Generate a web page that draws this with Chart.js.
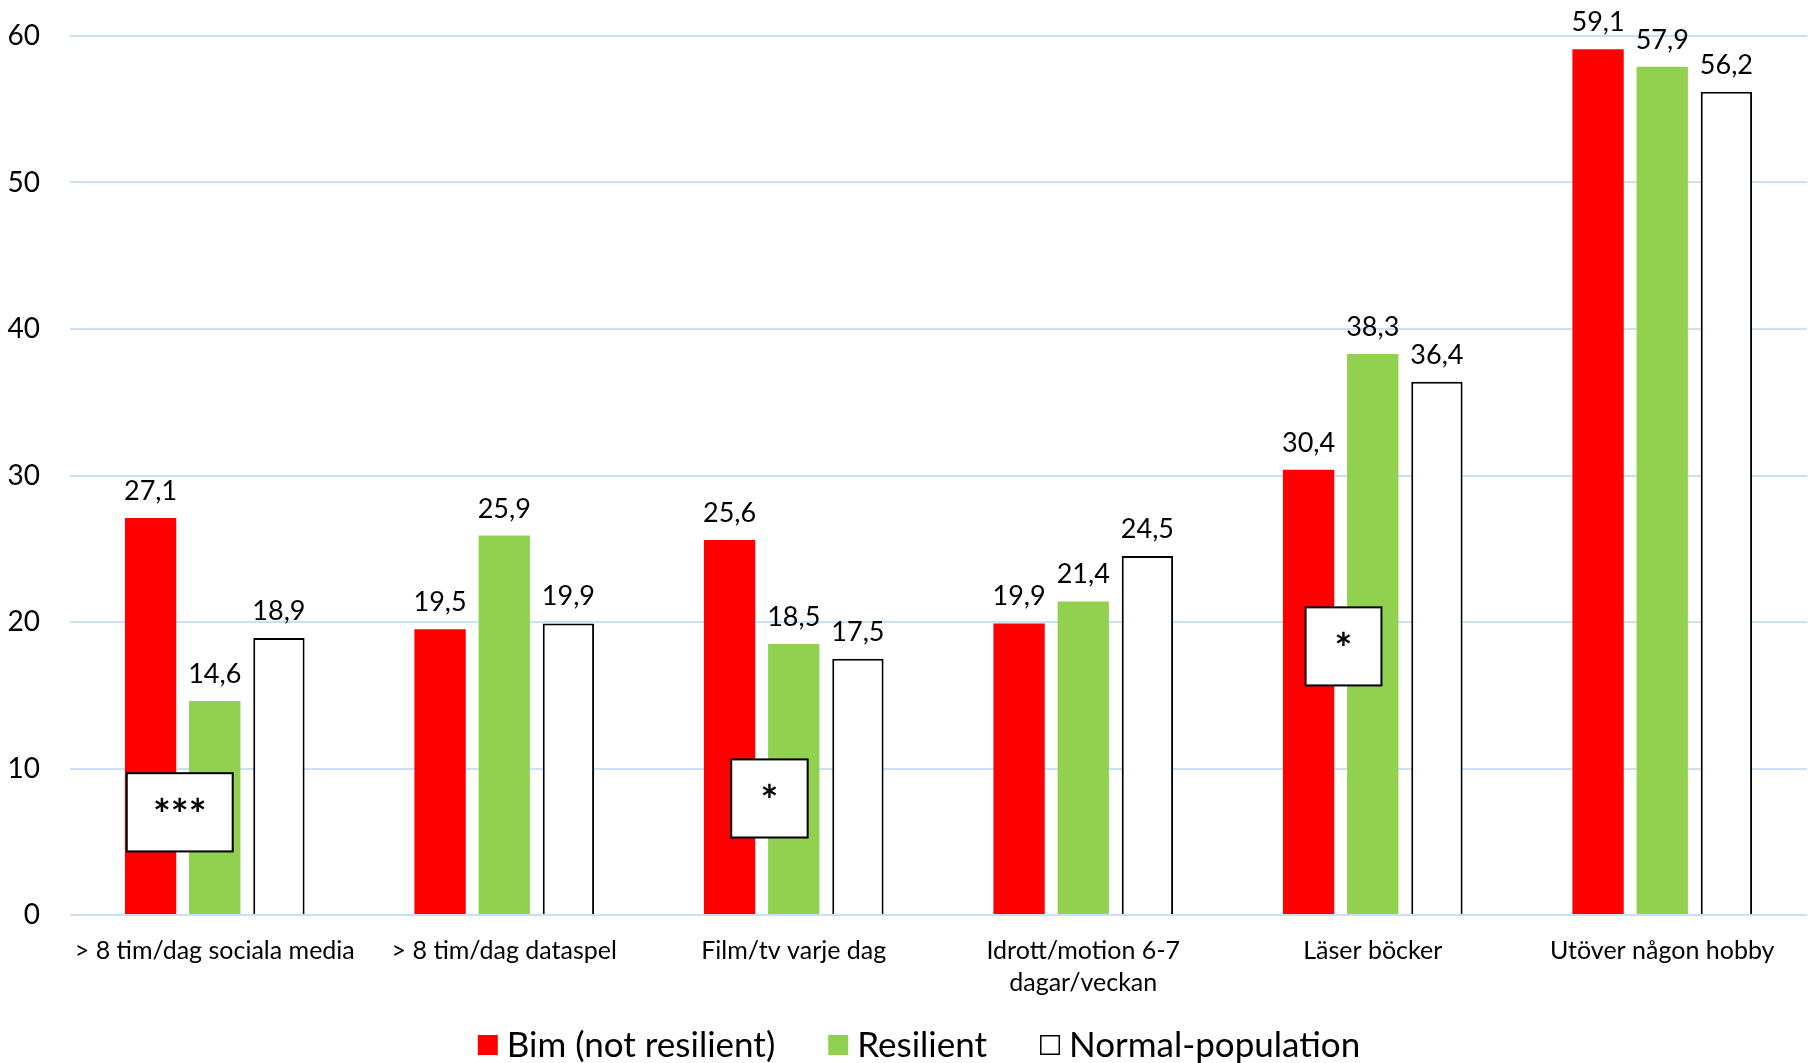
<!DOCTYPE html>
<html>
<head>
<meta charset="utf-8">
<script src="https://cdn.jsdelivr.net/npm/chart.js@4"></script>
<style>
  html, body { margin: 0; padding: 0; background: #fff; }
  #wrap { width: 1814px; height: 1063px; }
</style>
</head>
<body>
<div id="wrap"><canvas id="c" width="1814" height="1063"></canvas></div>
<script>
const categories = [
  '> 8 tim/dag sociala media',
  '> 8 tim/dag dataspel',
  'Film/tv varje dag',
  ['Idrott/motion 6-7', 'dagar/veckan'],
  'Läser böcker',
  'Utöver någon hobby'
];
const seriesNames = ['Bim (not resilient)', 'Resilient', 'Normal-population'];
const bimValues = [27.1, 19.5, 25.6, 19.9, 30.4, 59.1];
const resilientValues = [14.6, 25.9, 18.5, 21.4, 38.3, 57.9];
const normalValues = [18.9, 19.9, 17.5, 24.5, 36.4, 56.2];
const yTickValues = [0, 10, 20, 30, 40, 50, 60];
const significanceCategories = [0, 2, 4];
const significanceLabels = ['***', '*', '*'];

const FONT = 'Lato, "Open Sans", sans-serif';

const valueLabels = {
  id: 'valueLabels',
  afterDatasetsDraw(chart) {
    const ctx = chart.ctx;
    ctx.save();
    ctx.font = '27px ' + FONT;
    ctx.fillStyle = '#000';
    ctx.textAlign = 'center';
    ctx.textBaseline = 'alphabetic';
    chart.data.datasets.forEach((ds, di) => {
      const meta = chart.getDatasetMeta(di);
      meta.data.forEach((bar, i) => {
        const txt = ds.data[i].toFixed(1).replace('.', ',');
        ctx.fillText(txt, bar.x, bar.y - 18);
      });
    });
    ctx.restore();
  }
};

// significance boxes: style/position config (not data)
const boxLayout = [
  { dx: -0.121, w: 0.366, yTop: 9.68, yBot: 4.34 },
  { dx: -0.084, w: 0.264, yTop: 10.62, yBot: 5.29 },
  { dx: -0.101, w: 0.262, yTop: 21.0, yBot: 15.67 }
];

const sigBoxes = {
  id: 'sigBoxes',
  afterDatasetsDraw(chart) {
    const ctx = chart.ctx;
    const xs = chart.scales.x, ys = chart.scales.y;
    const catW = (xs.right - xs.left) / categories.length;
    ctx.save();
    significanceCategories.forEach((ci, k) => {
      const L = boxLayout[k];
      const cx = xs.getPixelForValue(ci) + L.dx * catW;
      const w = L.w * catW;
      const top = ys.getPixelForValue(L.yTop);
      const bot = ys.getPixelForValue(L.yBot);
      ctx.fillStyle = '#fff';
      ctx.fillRect(cx - w / 2, top, w, bot - top);
      ctx.lineWidth = 2;
      ctx.strokeStyle = '#000';
      ctx.strokeRect(cx - w / 2, top, w, bot - top);
      ctx.font = 'bold 42px ' + FONT;
      ctx.fillStyle = '#000';
      ctx.textAlign = 'center';
      ctx.textBaseline = 'alphabetic';
      // asterisk glyph sits high in the em box
      ctx.fillText(significanceLabels[k], cx, (top + bot) / 2 + 18);
    });
    ctx.restore();
  }
};

const customLegend = {
  id: 'customLegend',
  afterDraw(chart) {
    const ctx = chart.ctx;
    ctx.save();
    ctx.font = '35px ' + FONT;
    ctx.textBaseline = 'middle';
    ctx.textAlign = 'left';
    const box = 20, gapText = 9, gapItem = 53;
    const widths = seriesNames.map(n => ctx.measureText(n).width);
    const total = widths.reduce((a, b) => a + b, 0) + seriesNames.length * (box + gapText) + gapItem * (seriesNames.length - 1);
    let x = chart.width / 2 + 12 - total / 2;
    const cy = 1045;
    chart.data.datasets.forEach((ds, i) => {
      ctx.fillStyle = ds.backgroundColor;
      ctx.fillRect(x, cy - box / 2, box, box);
      if (ds.borderWidth) {
        ctx.lineWidth = 1.5;
        ctx.strokeStyle = '#000';
        ctx.strokeRect(x + 0.75, cy - box / 2 + 0.75, box - 1.5, box - 1.5);
      }
      ctx.fillStyle = '#000';
      ctx.fillText(seriesNames[i], x + box + gapText, cy + 1);
      x += box + gapText + widths[i] + gapItem;
    });
    ctx.restore();
  }
};

new Chart(document.getElementById('c'), {
  type: 'bar',
  data: {
    labels: categories,
    datasets: [
      { label: seriesNames[0], data: bimValues, backgroundColor: '#FF0000', borderWidth: 0 },
      { label: seriesNames[1], data: resilientValues, backgroundColor: '#92D050', borderWidth: 0 },
      { label: seriesNames[2], data: normalValues, backgroundColor: '#FFFFFF', borderColor: '#000000', borderWidth: 2 }
    ]
  },
  options: {
    responsive: false,
    animation: false,
    devicePixelRatio: 1,
    categoryPercentage: 0.665,
    barPercentage: 0.8,
    layout: { padding: { top: 36, right: 7, left: 0, bottom: 64 } },
    plugins: {
      legend: { display: false },
      tooltip: { enabled: false }
    },
    scales: {
      x: {
        grid: { display: false, drawTicks: false },
        border: { display: false },
        ticks: {
          font: { family: FONT, size: 25, lineHeight: 1.28 },
          color: '#000',
          padding: 20,
          maxRotation: 0,
          autoSkip: false
        },
        afterFit(s) { s.height = 84; }
      },
      y: {
        min: 0,
        max: 60,
        afterBuildTicks(s) { s.ticks = yTickValues.map(v => ({ value: v })); },
        grid: { color: '#C9E0F6', lineWidth: 2, drawTicks: true, tickLength: 30, tickColor: 'rgba(0,0,0,0)' },
        border: { display: false },
        ticks: {
          font: { family: FONT, size: 28 },
          color: '#000',
          padding: 0
        },
        afterFit(s) { s.width = 70; }
      }
    }
  },
  plugins: [valueLabels, sigBoxes, customLegend]
});
</script>
</body>
</html>
